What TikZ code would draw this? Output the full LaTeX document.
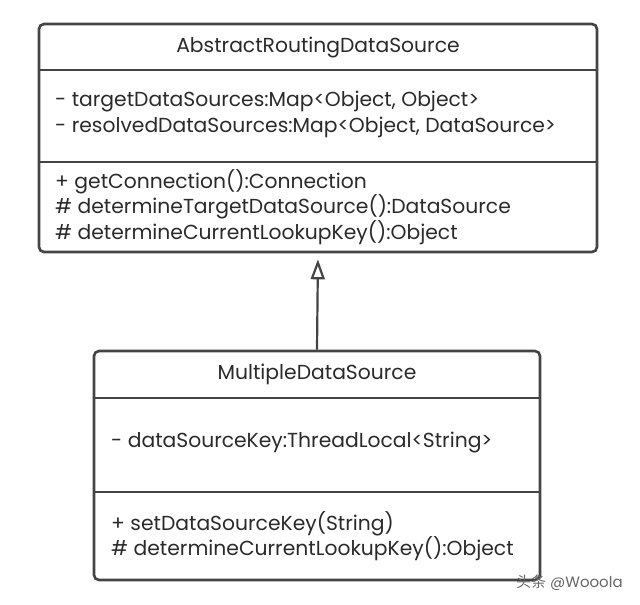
\documentclass[tikz,border=0pt]{standalone}
\usepackage{fontspec}
\setmainfont{Poppins}
\newfontfamily\cjk{Noto Sans CJK SC}
\usetikzlibrary{arrows.meta,positioning}

\definecolor{umlline}{HTML}{444444}
\definecolor{umltext}{HTML}{2A2A2A}

\begin{document}
\begin{tikzpicture}[x=1pt, y=-1pt, >={Triangle[open,length=20pt,width=14pt]}]
    \tikzstyle{every node}=[text=umltext, inner sep=0pt, font=\fontsize{20.3}{25}\selectfont]
    \tikzstyle{class}=[draw=umlline, line width=2.6pt, rounded corners=5pt]
    \tikzstyle{member}=[anchor=base west]
    \tikzstyle{divider}=[draw=umlline, line width=2.6pt]
    \useasboundingbox (0,0) rectangle (640,605);

    % parent class
    \node[class, minimum width=558pt, minimum height=228pt] (ards) at (318,138) {};
    \node[anchor=base] (ardsname) at (318,52) {AbstractRoutingDataSource};
    \node[member] (ardsa1) at (55,106) {- targetDataSources:Map<Object, Object>};
    \node[member] (ardsa2) at (55,132) {- resolvedDataSources:Map<Object, DataSource>};
    \node[member] (ardsm1) at (55,188) {+ getConnection():Connection};
    \node[member] (ardsm2) at (55,213) {\# determineTargetDataSource():DataSource};
    \node[member] (ardsm3) at (55,239) {\# determineCurrentLookupKey():Object};
    \path[divider] (ards.west |- 0,70) -- (ards.east |- 0,70);
    \path[divider] (ards.west |- 0,162) -- (ards.east |- 0,162);

    % child class
    \node[class, minimum width=446pt, minimum height=229pt] (mds) at (317,465.5) {};
    \node[anchor=base] (mdsname) at (317,379) {MultipleDataSource};
    \node[member] (mdsa1) at (111,447) {- dataSourceKey:ThreadLocal<String>};
    \node[member] (mdsm1) at (111,530) {+ setDataSourceKey(String)};
    \node[member] (mdsm2) at (111,555) {\# determineCurrentLookupKey():Object};
    \path[divider] (mds.west |- 0,398) -- (mds.east |- 0,398);
    \path[divider] (mds.west |- 0,492) -- (mds.east |- 0,492);

    % generalization
    \draw[->, umlline, line width=2.2pt, shorten >=6pt] (mds.north) -- (ards.south);

    % watermark
    \node[anchor=base west, text=black!60, font=\fontsize{15}{18}\selectfont] (mark) at (516,587) {{\cjk 头条} @Wooola};
\end{tikzpicture}
\end{document}
